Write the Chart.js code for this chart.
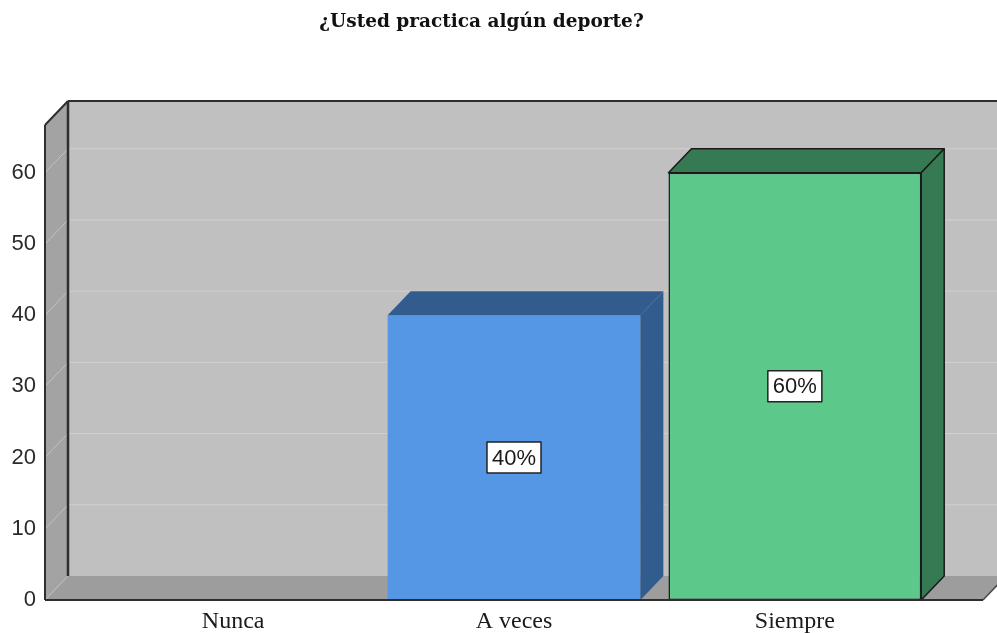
<!DOCTYPE html>
<html>
<head>
<meta charset="utf-8">
<title>¿Usted practica algún deporte?</title>
<script src="https://cdn.jsdelivr.net/npm/chart.js@4.4.0/dist/chart.umd.min.js"></script>
<style>
  html, body { margin: 0; padding: 0; background: #ffffff; }
  canvas { display: block; }
</style>
</head>
<body>
<canvas id="sportChart" width="997" height="633"></canvas>
<script>
// Chart data
const chartTitle = '¿Usted practica algún deporte?';
const categories = ['Nunca', 'A veces', 'Siempre'];
const percentages = [0, 40, 60];
const yTicks = [0, 10, 20, 30, 40, 50, 60];
const yMax = 66.7;

// Bar colours (front face, top/side face, outline)
const frontColors = ['#8C8C8C', '#5596E5', '#5CC98B'];
const shadeColors = ['#555555', '#335C8E', '#357A52'];
const edgeColors = [null, null, '#1A1A1A'];

// Depth of the 3D box
const depthX = 23;
const depthY = -24;

function fillPoly(ctx, pts, color, stroke, lw) {
    ctx.beginPath();
    ctx.moveTo(pts[0][0], pts[0][1]);
    for (let i = 1; i < pts.length; i++) ctx.lineTo(pts[i][0], pts[i][1]);
    ctx.closePath();
    ctx.fillStyle = color;
    ctx.fill();
    if (stroke) {
        ctx.strokeStyle = stroke;
        ctx.lineWidth = lw || 1;
        ctx.lineJoin = 'round';
        ctx.stroke();
    }
}

function drawLine(ctx, x1, y1, x2, y2, color, lw) {
    ctx.beginPath();
    ctx.moveTo(x1, y1);
    ctx.lineTo(x2, y2);
    ctx.strokeStyle = color;
    ctx.lineWidth = lw;
    ctx.stroke();
}

// Walls, floor, bar tops/sides and value boxes
const box3d = {
    id: 'box3d',
    beforeDatasetsDraw(chart) {
        const ctx = chart.ctx;
        const a = chart.chartArea;
        const y = chart.scales.y;
        const farRight = chart.width + depthX;
        ctx.save();

        // back wall
        ctx.fillStyle = '#C0C0C0';
        ctx.fillRect(a.left + depthX, a.top + depthY, farRight - a.left, a.bottom - a.top);

        // side wall
        fillPoly(ctx, [[a.left, a.top], [a.left + depthX, a.top + depthY],
            [a.left + depthX, a.bottom + depthY], [a.left, a.bottom]], '#A3A3A3');

        // floor
        fillPoly(ctx, [[a.left, a.bottom], [a.left + depthX, a.bottom + depthY],
            [a.right + depthX, a.bottom + depthY], [a.right, a.bottom]], '#9D9D9D');

        // grid lines on the back and side wall
        yTicks.forEach(v => {
            if (v === 0) return;
            const py = y.getPixelForValue(v);
            drawLine(ctx, a.left + depthX, py + depthY, chart.width, py + depthY, '#D0D0D0', 1);
            drawLine(ctx, a.left, py, a.left + depthX, py + depthY, '#C2C2C2', 1);
        });
        drawLine(ctx, a.left, a.bottom, a.left + depthX, a.bottom + depthY, '#BDBDBD', 1);

        // dark box edges
        drawLine(ctx, a.left + depthX, a.top + depthY, a.left + depthX, a.bottom + depthY, '#2E2E2E', 2.5);
        drawLine(ctx, a.left + depthX, a.top + depthY, chart.width, a.top + depthY, '#2E2E2E', 2);
        drawLine(ctx, a.left, a.top, a.left + depthX, a.top + depthY, '#2E2E2E', 2);
        drawLine(ctx, a.left, a.top, a.left, a.bottom, '#2E2E2E', 2);
        drawLine(ctx, a.right, a.bottom, a.right + depthX, a.bottom + depthY, '#4A4A4A', 1.5);

        ctx.restore();
    },
    afterDatasetsDraw(chart) {
        const ctx = chart.ctx;
        const a = chart.chartArea;
        const y = chart.scales.y;
        const meta = chart.getDatasetMeta(0);
        ctx.save();

        meta.data.forEach((bar, i) => {
            if (percentages[i] <= 0) return;
            const p = bar.getProps(['x', 'y', 'width', 'base'], true);
            const x1 = p.x - p.width / 2;
            const x2 = p.x + p.width / 2;
            // top face
            fillPoly(ctx, [[x1, p.y], [x1 + depthX, p.y + depthY],
                [x2 + depthX, p.y + depthY], [x2, p.y]], shadeColors[i], edgeColors[i], 1.5);
            // side face
            fillPoly(ctx, [[x2, p.y], [x2 + depthX, p.y + depthY],
                [x2 + depthX, p.base + depthY], [x2, p.base]], shadeColors[i], edgeColors[i], 1.5);
        });

        // front floor edge
        drawLine(ctx, a.left, a.bottom, a.right, a.bottom, '#2E2E2E', 2);

        // value boxes
        ctx.font = '22px "Liberation Sans"';
        ctx.textAlign = 'center';
        ctx.textBaseline = 'middle';
        meta.data.forEach((bar, i) => {
            if (percentages[i] <= 0) return;
            const label = percentages[i] + '%';
            const cx = bar.x;
            const cy = y.getPixelForValue(percentages[i] / 2);
            const w = ctx.measureText(label).width + 10;
            const h = 31;
            ctx.fillStyle = '#FFFFFF';
            ctx.fillRect(cx - w / 2, cy - h / 2, w, h);
            ctx.strokeStyle = '#222222';
            ctx.lineWidth = 1.5;
            ctx.strokeRect(cx - w / 2, cy - h / 2, w, h);
            ctx.fillStyle = '#1A1A1A';
            ctx.fillText(label, cx, cy + 1);
        });

        ctx.restore();
    },
    afterDraw(chart) {
        const ctx = chart.ctx;
        ctx.save();
        ctx.font = 'bold 18.5px "DejaVu Serif"';
        ctx.fillStyle = '#111111';
        ctx.textAlign = 'center';
        ctx.textBaseline = 'alphabetic';
        ctx.fillText(chartTitle, 481.5, 27);
        ctx.restore();
    }
};

const ctx = document.getElementById('sportChart').getContext('2d');

new Chart(ctx, {
    type: 'bar',
    data: {
        datasets: [{
            label: chartTitle,
            data: percentages.map((v, i) => ({ x: i, y: v })),
            backgroundColor: frontColors,
            borderColor: edgeColors.map(c => c || 'rgba(0,0,0,0)'),
            borderWidth: edgeColors.map(c => (c ? 1.5 : 0)),
            borderSkipped: false,
            categoryPercentage: 1,
            barPercentage: 0.9
        }]
    },
    options: {
        responsive: false,
        animation: false,
        layout: {
            padding: { top: 125, right: 14, bottom: 0, left: 0 }
        },
        plugins: {
            legend: { display: false },
            tooltip: { enabled: false },
            title: { display: false }
        },
        scales: {
            x: {
                type: 'linear',
                min: -0.67,
                max: 2.67,
                offset: false,
                grid: { display: false, drawTicks: false },
                border: { display: false },
                afterBuildTicks: function(scale) {
                    scale.ticks = categories.map((c, i) => ({ value: i }));
                },
                afterFit: function(scale) {
                    scale.height = 33;
                },
                ticks: {
                    autoSkip: false,
                    maxRotation: 0,
                    padding: 7,
                    color: '#1A1A1A',
                    font: { family: '"Liberation Serif"', size: 24 },
                    callback: function(value) {
                        return categories[value];
                    }
                }
            },
            y: {
                min: 0,
                max: yMax,
                grid: { display: false, drawTicks: false },
                border: { display: false },
                afterBuildTicks: function(scale) {
                    scale.ticks = yTicks.map(v => ({ value: v }));
                },
                afterFit: function(scale) {
                    scale.width = 45;
                },
                ticks: {
                    padding: 9,
                    color: '#2A2A2A',
                    font: { family: '"Liberation Sans"', size: 22 }
                }
            }
        }
    },
    plugins: [box3d]
});
</script>
</body>
</html>
